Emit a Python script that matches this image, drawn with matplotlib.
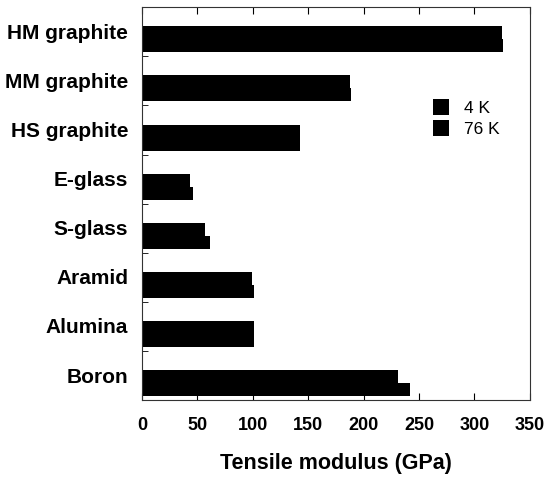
import numpy as np
import matplotlib
matplotlib.use('Agg')
import matplotlib.pyplot as plt
from matplotlib.ticker import MultipleLocator

materials = ['HM graphite', 'MM graphite', 'HS graphite', 'E-glass',
             'S-glass', 'Aramid', 'Alumina', 'Boron']
modulus_76k = [325, 188, 143, 43, 57, 99, 101, 231]
modulus_4k = [326, 189, 143, 46, 61, 101, 101, 242]

plt.rcParams['font.family'] = ['Liberation Sans', 'DejaVu Sans']

fig = plt.figure(figsize=(5.48, 4.78), dpi=100)
ax = fig.add_axes([0.259, 0.163, 0.708, 0.822])

pos = np.arange(len(materials))
h = 0.265
ax.barh(pos + 0.39, modulus_76k, height=h, align='edge', color='black', label='76 K')
ax.barh(pos + 0.39 + h, modulus_4k, height=h, align='edge', color='black', label='4 K')

ax.set_xlim(0, 350)
ax.set_ylim(len(materials), 0)
ax.xaxis.set_major_locator(MultipleLocator(50))
ax.set_yticks(pos + 0.49)
ax.set_yticklabels(materials, fontsize=15, fontweight='bold')
ax.set_yticks(pos[1:], minor=True)
ax.tick_params(axis='y', which='major', length=0, pad=10)
ax.tick_params(axis='y', which='minor', direction='in', length=4, left=True, right=False)
ax.tick_params(axis='x', direction='in', length=5, top=True, pad=12, labelsize=13)
for t in ax.get_xticklabels():
    t.set_fontweight('bold')
for s in ax.spines.values():
    s.set_linewidth(0.8)
    s.set_color('#333333')

ax.set_xlabel('Tensile modulus (GPa)', fontsize=15.5, fontweight='bold', labelpad=14)

handles, labels = ax.get_legend_handles_labels()
ax.legend(handles[::-1], labels[::-1], loc='upper left', bbox_to_anchor=(0.71, 0.806),
          frameon=False, fontsize=12.5, handlelength=0.9, handleheight=1.05,
          handletextpad=0.9, labelspacing=0.25)

fig.savefig('out.png', dpi=100)
